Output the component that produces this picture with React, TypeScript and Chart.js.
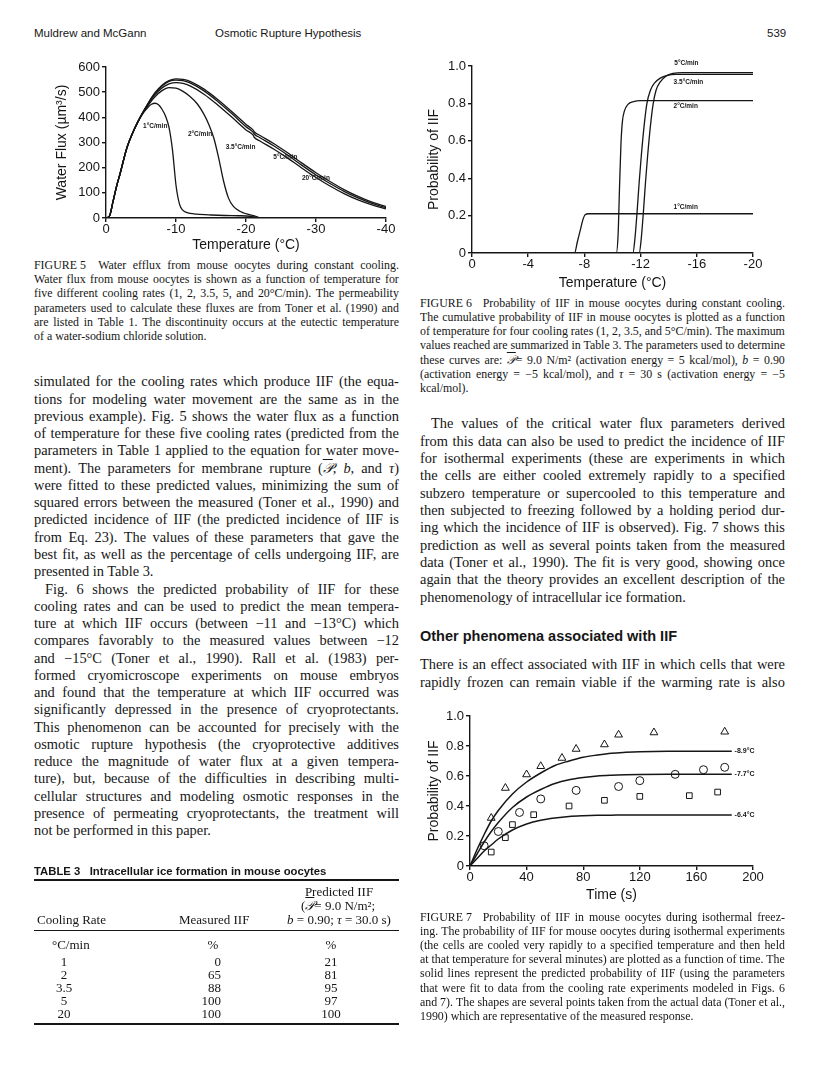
import React, { useEffect, useRef } from "react";
import { Chart, registerables } from "chart.js";

Chart.register(...registerables);

const SANS = "'Liberation Sans', Arial, Helvetica, sans-serif";
const SERIF = "'Liberation Serif', 'Times New Roman', Times, serif";
const INK = "#161616";

// ---------------- Figure 5: water flux vs temperature ----------------
const fig5XTicks = [0, -10, -20, -30, -40];
const fig5YTicks = [0, 100, 200, 300, 400, 500, 600];

const temp1 = [0, -0.5, -1, -1.5, -2, -3, -4, -5, -6, -6.5, -7, -7.5, -8, -8.5, -9, -9.5, -10, -10.5, -11, -11.5, -12, -13, -15, -17, -19, -20, -21, -21.5, -22];
const flux1 = [0, 8, 65, 125, 175, 280, 350, 405, 440, 452, 456, 450, 432, 405, 360, 270, 130, 55, 30, 22, 18, 15, 12, 10, 9, 8, 5, 2, 0];

const temp2 = [0, -0.5, -1, -1.5, -2, -3, -4, -5, -6, -7, -8, -9, -10, -11, -12, -13, -14, -14.7, -15.4, -16.1, -16.8, -17.5, -18.2, -19.2, -20.1, -21.3, -22];
const flux2 = [0, 8, 65, 125, 175, 280, 350, 405, 447, 482, 506, 518, 516, 503, 483, 455, 412, 371, 318, 238, 146, 79, 46, 26, 16, 7, 0];

const tempHi = [0, -0.5, -1, -1.5, -2, -3, -4, -5, -6, -7, -8, -9, -10, -11, -12, -14, -16, -18, -20, -21, -21.2, -22, -24, -26, -28, -30, -32, -34, -36, -38, -40];
const flux35 = [0, 8, 65, 125, 175, 280, 350, 405, 452, 490, 517, 533, 538, 535, 525, 492, 448, 400, 350, 330, 320, 306, 273, 237, 198, 161, 127, 97, 72, 52, 36];
const flux5 = [0, 8, 65, 125, 175, 280, 350, 406, 454, 495, 524, 543, 548, 546, 537, 505, 462, 414, 363, 341, 333, 319, 286, 249, 209, 171, 137, 106, 80, 58, 41];
const flux20 = [0, 8, 65, 125, 175, 280, 351, 407, 456, 498, 528, 546, 553, 551, 543, 512, 470, 422, 372, 350, 342, 328, 295, 258, 218, 180, 145, 113, 86, 63, 46];

const fig5Labels = ["1°C/min", "2°C/min", "3.5°C/min", "5°C/min", "20°C/min"];
const fig5LabelT = [-5.3, -11.7, -17.1, -23.9, -28];
const fig5LabelV = [365, 331, 283, 240, 160];

// ---------------- Figure 6: probability of IIF vs temperature ----------------
const fig6XTicks = [0, -4, -8, -12, -16, -20];
const fig6YTicks = [0, 0.2, 0.4, 0.6, 0.8, 1.0];

const temp6r1 = [0, -7.3, -7.5, -7.7, -7.9, -8.05, -8.3, -20];
const prob6r1 = [0, 0, 0.06, 0.12, 0.18, 0.205, 0.21, 0.21];
const temp6r2 = [0, -10.27, -10.4, -10.5, -10.6, -10.7, -10.85, -11.1, -11.5, -12, -20];
const prob6r2 = [0, 0, 0.1, 0.35, 0.58, 0.7, 0.76, 0.795, 0.81, 0.815, 0.815];
const temp6r35 = [0, -11.45, -11.6, -11.75, -11.9, -12.05, -12.25, -12.45, -12.7, -13.0, -13.4, -13.9, -14.5, -20];
const prob6r35 = [0, 0, 0.08, 0.22, 0.38, 0.52, 0.68, 0.8, 0.87, 0.91, 0.935, 0.95, 0.955, 0.955];
const temp6r5 = [0, -11.9, -12.05, -12.2, -12.35, -12.5, -12.7, -12.9, -13.1, -13.4, -13.8, -14.3, -15, -20];
const prob6r5 = [0, 0, 0.08, 0.22, 0.38, 0.52, 0.68, 0.8, 0.87, 0.915, 0.945, 0.96, 0.965, 0.965];

const fig6Labels = ["5°C/min", "3.5°C/min", "2°C/min", "1°C/min"];
const fig6LabelT = [-14.4, -14.35, -14.35, -14.35];
const fig6LabelP = [1.013, 0.914, 0.786, 0.244];

// ---------------- Figure 7: probability of IIF vs time ----------------
const fig7XTicks = [0, 40, 80, 120, 160, 200];
const fig7YTicks = [0, 0.2, 0.4, 0.6, 0.8, 1.0];

const time7 = [0, 5, 10, 15, 20, 30, 40, 50, 60, 70, 80, 90, 100, 110, 120, 140, 160, 185];
const model89 = [0, 0.11, 0.21, 0.3, 0.37, 0.48, 0.56, 0.62, 0.67, 0.7, 0.725, 0.74, 0.752, 0.758, 0.762, 0.765, 0.765, 0.765];
const model77 = [0, 0.08, 0.16, 0.23, 0.29, 0.39, 0.46, 0.51, 0.55, 0.575, 0.59, 0.6, 0.605, 0.608, 0.61, 0.611, 0.611, 0.611];
const model64 = [0, 0.05, 0.1, 0.14, 0.18, 0.24, 0.28, 0.305, 0.32, 0.33, 0.335, 0.338, 0.339, 0.34, 0.34, 0.34, 0.34, 0.34];

const triT = [15, 25, 40, 50, 65, 75, 95, 105, 130, 180];
const triP = [0.32, 0.52, 0.61, 0.665, 0.72, 0.78, 0.81, 0.875, 0.89, 0.895];
const cirT = [10, 20, 35, 50, 75, 105, 120, 145, 165, 180];
const cirP = [0.135, 0.23, 0.357, 0.447, 0.504, 0.53, 0.569, 0.611, 0.642, 0.658];
const sqT = [15, 25, 30, 45, 70, 95, 120, 155, 175];
const sqP = [0.093, 0.189, 0.276, 0.342, 0.4, 0.438, 0.464, 0.469, 0.493];

const fig7Labels = ["-8.9°C", "-7.7°C", "-6.4°C"];
const fig7LabelT = [187, 187, 187];
const fig7LabelP = [0.765, 0.611, 0.34];

// ---------------- Table 3 ----------------
const tableRates = ["1", "2", "3.5", "5", "20"];
const tableMeasured = ["0", "65", "88", "100", "100"];
const tablePredicted = ["21", "81", "95", "97", "100"];

// ---------------- helpers ----------------
const zip = (xs: number[], ys: number[]) => xs.map((x, i) => ({ x, y: ys[i] }));

function lineDs(xs: number[], ys: number[], w = 1.3) {
  return {
    data: zip(xs, ys),
    borderColor: INK,
    borderWidth: w,
    pointRadius: 0,
    fill: false,
    tension: 0.4,
    cubicInterpolationMode: "monotone",
  };
}

function markerDs(xs: number[], ys: number[], style: string, r: number) {
  return {
    data: zip(xs, ys),
    showLine: false,
    pointStyle: style,
    pointRadius: r,
    pointBorderColor: INK,
    pointBackgroundColor: "#ffffff",
    pointBorderWidth: 1,
    borderColor: INK,
    backgroundColor: "#ffffff",
  };
}

const intFmt = (v: number) => String(Math.round(v));
const decFmt = (v: number) => (Math.abs(v) < 1e-9 ? "0" : v.toFixed(1));

function scale(o: {
  ticks: number[];
  min: number;
  max: number;
  reverse?: boolean;
  title: string;
  titlePad: any;
  fit: number;
  vertical: boolean;
  fmt: (v: number) => string;
}) {
  return {
    type: "linear",
    min: o.min,
    max: o.max,
    reverse: !!o.reverse,
    afterBuildTicks: (s: any) => {
      s.ticks = o.ticks.map((v) => ({ value: v }));
    },
    afterFit: (s: any) => {
      if (o.vertical) s.width = o.fit;
      else s.height = o.fit;
    },
    border: { display: true, color: INK, width: 1.4 },
    grid: { display: true, drawOnChartArea: false, drawTicks: true, tickLength: 4, color: INK, lineWidth: 1.4 },
    ticks: {
      color: INK,
      font: { family: SANS, size: 13 },
      padding: o.vertical ? 2 : 0,
      maxRotation: 0,
      autoSkip: false,
      callback: (v: any) => o.fmt(Number(v)),
    },
    title: { display: true, text: o.title, color: INK, font: { family: SANS, size: 14 }, padding: o.titlePad },
  };
}

const curveLabelPlugin = {
  id: "curveLabels",
  afterDatasetsDraw(chart: any, _args: any, opts: any) {
    const { ctx, scales } = chart;
    ctx.save();
    ctx.fillStyle = INK;
    ctx.font = opts.font;
    ctx.textAlign = "left";
    ctx.textBaseline = "middle";
    (opts.texts as string[]).forEach((t, i) => {
      ctx.fillText(t, scales.x.getPixelForValue(opts.xs[i]), scales.y.getPixelForValue(opts.ys[i]));
    });
    ctx.restore();
  },
};

function baseOptions(padding: any, labels: any) {
  return {
    responsive: false,
    animation: false,
    events: [],
    layout: { padding },
    plugins: {
      legend: { display: false },
      tooltip: { enabled: false },
      curveLabels: labels,
    },
  };
}

function fig5Config(): any {
  return {
    type: "line",
    data: {
      datasets: [lineDs(temp1, flux1), lineDs(temp2, flux2), lineDs(tempHi, flux35), lineDs(tempHi, flux5), lineDs(tempHi, flux20)],
    },
    options: {
      ...baseOptions(
        { top: 12, right: 14, left: 0, bottom: 0 },
        { texts: fig5Labels, xs: fig5LabelT, ys: fig5LabelV, font: `bold 6.5px ${SANS}` }
      ),
      scales: {
        x: scale({ ticks: fig5XTicks, min: -40, max: 0, reverse: true, title: "Temperature (°C)", titlePad: { top: 0, bottom: 1 }, fit: 37, vertical: false, fmt: intFmt }),
        y: scale({ ticks: fig5YTicks, min: 0, max: 600, title: "Water Flux (µm³/s)", titlePad: { top: 14, bottom: 0 }, fit: 66, vertical: true, fmt: intFmt }),
      },
    },
    plugins: [curveLabelPlugin],
  };
}

function fig6Config(): any {
  return {
    type: "line",
    data: {
      datasets: [lineDs(temp6r1, prob6r1), lineDs(temp6r2, prob6r2), lineDs(temp6r35, prob6r35), lineDs(temp6r5, prob6r5)],
    },
    options: {
      ...baseOptions(
        { top: 11, right: 37, left: 0, bottom: 0 },
        { texts: fig6Labels, xs: fig6LabelT, ys: fig6LabelP, font: `bold 6.5px ${SANS}` }
      ),
      scales: {
        x: scale({ ticks: fig6XTicks, min: -20, max: 0, reverse: true, title: "Temperature (°C)", titlePad: { top: 0, bottom: 3 }, fit: 42, vertical: false, fmt: intFmt }),
        y: scale({ ticks: fig6YTicks, min: 0, max: 1, title: "Probability of IIF", titlePad: { top: 6, bottom: 0 }, fit: 52, vertical: true, fmt: decFmt }),
      },
    },
    plugins: [curveLabelPlugin],
  };
}

function fig7Config(): any {
  return {
    type: "line",
    data: {
      datasets: [
        lineDs(time7, model89, 1.5),
        lineDs(time7, model77, 1.5),
        lineDs(time7, model64, 1.5),
        markerDs(triT, triP, "triangle", 4.5),
        markerDs(cirT, cirP, "circle", 4),
        markerDs(sqT, sqP, "rect", 4),
      ],
    },
    options: {
      ...baseOptions(
        { top: 16, right: 37, left: 0, bottom: 0 },
        { texts: fig7Labels, xs: fig7LabelT, ys: fig7LabelP, font: `bold 7px ${SANS}` }
      ),
      scales: {
        x: scale({ ticks: fig7XTicks, min: 0, max: 200, title: "Time (s)", titlePad: { top: 0, bottom: 1 }, fit: 39, vertical: false, fmt: intFmt }),
        y: scale({ ticks: fig7YTicks, min: 0, max: 1, title: "Probability of IIF", titlePad: { top: 6, bottom: 0 }, fit: 50, vertical: true, fmt: decFmt }),
      },
    },
    plugins: [curveLabelPlugin],
  };
}

function ChartCanvas({ left, top, width, height, make }: { left: number; top: number; width: number; height: number; make: () => any }) {
  const ref = useRef<HTMLCanvasElement>(null);
  useEffect(() => {
    const chart = new Chart(ref.current as HTMLCanvasElement, make());
    return () => chart.destroy();
  }, []);
  return <canvas ref={ref} width={width} height={height} style={{ position: "absolute", left, top, width, height }} />;
}

// ---------------- text helpers ----------------
function Word({ w }: { w: string }) {
  const parts = w.split(/(\*[^*]+\*|𝒫)/u).filter((p) => p !== "");
  return (
    <span>
      {parts.map((p, i) => {
        if (p === "𝒫")
          return (
            <span key={i} style={{ textDecoration: "overline", fontStyle: "italic" }}>
              {p}
            </span>
          );
        if (p.length > 2 && p.startsWith("*") && p.endsWith("*")) return <i key={i}>{p.slice(1, -1)}</i>;
        return <React.Fragment key={i}>{p}</React.Fragment>;
      })}
    </span>
  );
}

type Line = string | [string, string];

function TextBlock({ x, yc, width, size, lh, lines, family = SERIF }: { x: number; yc: number; width: number; size: number; lh: number; lines: Line[]; family?: string }) {
  return (
    <div style={{ position: "absolute", left: x, top: yc - lh / 2, width, fontFamily: family, fontSize: size, color: INK }}>
      {lines.map((ln, i) => {
        const text = typeof ln === "string" ? ln : ln[0];
        const flags = typeof ln === "string" ? "" : ln[1];
        const indent = flags.includes("i") ? 11 : 0;
        const words = text.split(" ");
        if (flags.includes("l")) {
          return (
            <div key={i} style={{ height: lh, lineHeight: `${lh}px`, whiteSpace: "nowrap", paddingLeft: indent }}>
              {words.map((w, k) => (
                <React.Fragment key={k}>
                  {k > 0 ? " " : ""}
                  <Word w={w} />
                </React.Fragment>
              ))}
            </div>
          );
        }
        return (
          <div
            key={i}
            style={{
              height: lh,
              lineHeight: `${lh}px`,
              display: "flex",
              justifyContent: "space-between",
              columnGap: "0.15em",
              whiteSpace: "nowrap",
              paddingLeft: indent,
              width,
              boxSizing: "border-box",
            }}
          >
            {words.map((w, k) => (
              <Word key={k} w={w} />
            ))}
          </div>
        );
      })}
    </div>
  );
}

const caption5: Line[] = [
  "FIGURE\u00a05\u2002 Water efflux from mouse oocytes during constant cooling.",
  "Water flux from mouse oocytes is shown as a function of temperature for",
  "five different cooling rates (1, 2, 3.5, 5, and 20°C/min). The permeability",
  "parameters used to calculate these fluxes are from Toner et al. (1990) and",
  "are listed in Table 1. The discontinuity occurs at the eutectic temperature",
  ["of a water-sodium chloride solution.", "l"],
];

const bodyLeft: Line[] = [
  "simulated for the cooling rates which produce IIF (the equa-",
  "tions for modeling water movement are the same as in the",
  "previous example). Fig. 5 shows the water flux as a function",
  "of temperature for these five cooling rates (predicted from the",
  "parameters in Table 1 applied to the equation for water move-",
  "ment). The parameters for membrane rupture (𝒫, *b*, and *τ*)",
  "were fitted to these predicted values, minimizing the sum of",
  "squared errors between the measured (Toner et al., 1990) and",
  "predicted incidence of IIF (the predicted incidence of IIF is",
  "from Eq. 23). The values of these parameters that gave the",
  "best fit, as well as the percentage of cells undergoing IIF, are",
  ["presented in Table 3.", "l"],
  ["Fig. 6 shows the predicted probability of IIF for these", "i"],
  "cooling rates and can be used to predict the mean tempera-",
  "ture at which IIF occurs (between −11 and −13°C) which",
  "compares favorably to the measured values between −12",
  "and −15°C (Toner et al., 1990). Rall et al. (1983) per-",
  "formed cryomicroscope experiments on mouse embryos",
  "and found that the temperature at which IIF occurred was",
  "significantly depressed in the presence of cryoprotectants.",
  "This phenomenon can be accounted for precisely with the",
  "osmotic rupture hypothesis (the cryoprotective additives",
  "reduce the magnitude of water flux at a given tempera-",
  "ture), but, because of the difficulties in describing multi-",
  "cellular structures and modeling osmotic responses in the",
  "presence of permeating cryoprotectants, the treatment will",
  ["not be performed in this paper.", "l"],
];

const caption6: Line[] = [
  "FIGURE\u00a06\u2002 Probability of IIF in mouse oocytes during constant cooling.",
  "The cumulative probability of IIF in mouse oocytes is plotted as a function",
  "of temperature for four cooling rates (1, 2, 3.5, and 5°C/min). The maximum",
  "values reached are summarized in Table 3. The parameters used to determine",
  "these curves are: 𝒫= 9.0 N/m² (activation energy = 5 kcal/mol), *b* = 0.90",
  "(activation energy = −5 kcal/mol), and *τ* = 30 s (activation energy = −5",
  ["kcal/mol).", "l"],
];

const bodyRight: Line[] = [
  ["The values of the critical water flux parameters derived", "i"],
  "from this data can also be used to predict the incidence of IIF",
  "for isothermal experiments (these are experiments in which",
  "the cells are either cooled extremely rapidly to a specified",
  "subzero temperature or supercooled to this temperature and",
  "then subjected to freezing followed by a holding period dur-",
  "ing which the incidence of IIF is observed). Fig. 7 shows this",
  "prediction as well as several points taken from the measured",
  "data (Toner et al., 1990). The fit is very good, showing once",
  "again that the theory provides an excellent description of the",
  ["phenomenology of intracellular ice formation.", "l"],
];

const bodyRight2: Line[] = [
  "There is an effect associated with IIF in which cells that were",
  "rapidly frozen can remain viable if the warming rate is also",
];

const caption7: Line[] = [
  "FIGURE\u00a07\u2002 Probability of IIF in mouse oocytes during isothermal freez-",
  "ing. The probability of IIF for mouse oocytes during isothermal experiments",
  "(the cells are cooled very rapidly to a specified temperature and then held",
  "at that temperature for several minutes) are plotted as a function of time. The",
  "solid lines represent the predicted probability of IIF (using the parameters",
  "that were fit to data from the cooling rate experiments modeled in Figs. 6",
  "and 7). The shapes are several points taken from the actual data (Toner et al.,",
  ["1990) which are representative of the measured response.", "l"],
];

function Abs({ x, yc, children, style, align = "left", h = 16 }: any) {
  const base: any = { position: "absolute", top: yc - h / 2, height: h, lineHeight: `${h}px`, whiteSpace: "nowrap", color: INK };
  if (align === "left") base.left = x;
  else if (align === "right") base.right = 816 - x;
  else {
    base.left = x - 100;
    base.width = 200;
    base.textAlign = "center";
  }
  return <div style={{ ...base, ...style }}>{children}</div>;
}

function Table3() {
  const serif = { fontFamily: SERIF, fontSize: 13 };
  const rowY = [962, 975, 988, 1001, 1014];
  return (
    <>
      <Abs x={34} yc={871} style={{ fontFamily: SANS, fontSize: 11.3, fontWeight: "bold" }}>
        TABLE 3&nbsp;&nbsp;&nbsp;Intracellular ice formation in mouse oocytes
      </Abs>
      <div style={{ position: "absolute", left: 34, top: 879, width: 365, height: 1.6, background: INK }} />
      <Abs x={339} yc={892} align="center" style={serif}>Predicted IIF</Abs>
      <Abs x={338} yc={906} align="center" style={serif}>
        (<Word w="𝒫=" /> 9.0 N/m²;
      </Abs>
      <Abs x={37} yc={920} style={serif}>Cooling Rate</Abs>
      <Abs x={179} yc={920} style={serif}>Measured IIF</Abs>
      <Abs x={339} yc={920} align="center" style={serif}>
        <i>b</i> = 0.90; <i>τ</i> = 30.0 s)
      </Abs>
      <div style={{ position: "absolute", left: 34, top: 930, width: 365, height: 1.2, background: INK }} />
      <Abs x={52} yc={945} style={serif}>°C/min</Abs>
      <Abs x={213} yc={945} align="center" style={serif}>%</Abs>
      <Abs x={331} yc={945} align="center" style={serif}>%</Abs>
      {tableRates.map((r, i) => (
        <React.Fragment key={i}>
          <Abs x={64} yc={rowY[i]} align="center" style={serif}>{r}</Abs>
          <Abs x={221} yc={rowY[i]} align="right" style={serif}>{tableMeasured[i]}</Abs>
          <Abs x={331} yc={rowY[i]} align="center" style={serif}>{tablePredicted[i]}</Abs>
        </React.Fragment>
      ))}
      <div style={{ position: "absolute", left: 34, top: 1023, width: 365, height: 1.6, background: INK }} />
    </>
  );
}

export default function App() {
  return (
    <div style={{ position: "absolute", left: 0, top: 0, width: 816, height: 1092, background: "#ffffff", overflow: "hidden" }}>
      <Abs x={34} yc={33} style={{ fontFamily: SANS, fontSize: 11.5 }}>Muldrew and McGann</Abs>
      <Abs x={215} yc={33} style={{ fontFamily: SANS, fontSize: 11.5 }}>Osmotic Rupture Hypothesis</Abs>
      <Abs x={767} yc={33} style={{ fontFamily: SANS, fontSize: 11.5 }}>539</Abs>

      <ChartCanvas left={40} top={55} width={360} height={200} make={fig5Config} />
      <ChartCanvas left={420} top={55} width={370} height={240} make={fig6Config} />
      <ChartCanvas left={420} top={700} width={370} height={205} make={fig7Config} />

      <TextBlock x={34} yc={265} width={365} size={11.9} lh={14.3} lines={caption5} />
      <TextBlock x={34} yc={382} width={365} size={14.4} lh={17.27} lines={bodyLeft} />
      <Table3 />

      <TextBlock x={420} yc={303} width={365} size={11.9} lh={14.17} lines={caption6} />
      <TextBlock x={420} yc={424} width={365} size={14.4} lh={17.35} lines={bodyRight} />
      <Abs x={420} yc={636} h={20} style={{ fontFamily: SANS, fontSize: 14.5, fontWeight: "bold" }}>
        Other phenomena associated with IIF
      </Abs>
      <TextBlock x={420} yc={665} width={365} size={14.4} lh={17.3} lines={bodyRight2} />
      <TextBlock x={420} yc={917} width={365} size={11.9} lh={14.15} lines={caption7} />
    </div>
  );
}
